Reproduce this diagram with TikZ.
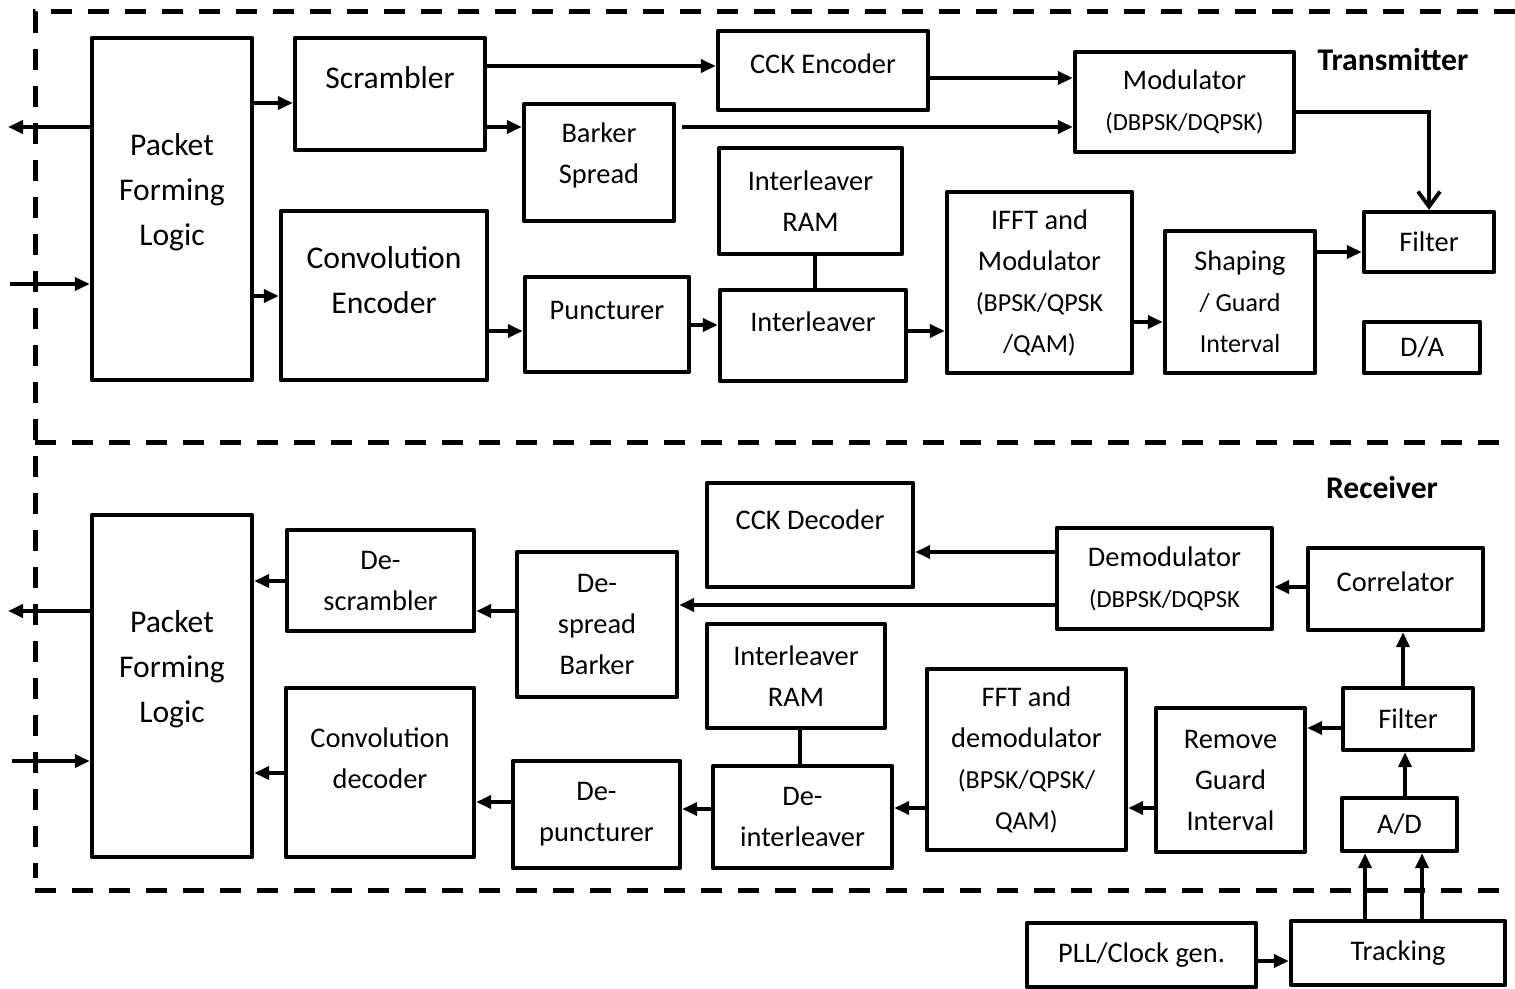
\documentclass[tikz,border=0pt]{standalone}
\usepackage{fontspec}
\setmainfont{Carlito}
\usepackage{tikz}
\usetikzlibrary{arrows.meta,positioning}
\newcommand{\fbig}{\fontsize{15.8}{22.5}\selectfont}
\newcommand{\fmed}{\fontsize{14.2}{20.5}\selectfont}
\newcommand{\fmid}{\fontsize{13}{19.5}\selectfont}
\newcommand{\fsml}{\fontsize{12.3}{19.5}\selectfont}

\begin{document}
\begin{tikzpicture}[
  x=0.5pt, y=-0.5pt,
  blk/.style={draw, line width=2.2pt, line join=round, align=center, inner sep=0pt, font=\fmed},
  sz/.style 2 args={minimum width=#1*0.5pt, minimum height=#2*0.5pt},
  lift/.style={text depth=#1},
  arr/.style={-{Triangle[length=7.5pt,width=6.5pt]}, line width=1.9pt},
  barb/.style={-{Straight Barb[length=7.5pt,width=11pt]}, line width=1.9pt},
  lnk/.style={line width=1.9pt},
  bound/.style={line width=2.5pt, dash pattern=on 10.5pt off 8pt},
  ttl/.style={font=\fbig\bfseries}
]
\useasboundingbox (0,0) rectangle (1515,989);

% frame of the two sections
\draw[bound] (1515,12) -- (35,12) -- (35,878);
\draw[bound] (35,443) -- (1515,443);
\draw[bound] (35,890) -- (1515,890);

% transmitter
\node[ttl] (tx) at (1393,60) {Transmitter};
\node[blk, sz={160}{342}, font=\fbig, lift=19pt] (pflT) at (172,209) {Packet\\Forming\\Logic};
\node[blk, sz={190}{112}, font=\fbig, lift=16pt] (scr) at (390,94) {Scrambler};
\node[blk, sz={206}{169}, font=\fbig, lift=15pt] (conv) at (384,295.5) {Convolution\\Encoder};
\node[blk, sz={210}{79}, lift=7pt] (cck) at (823,70.5) {CCK Encoder};
\node[blk, sz={150}{117}, lift=9pt] (bark) at (599,162.5) {Barker\\Spread};
\node[blk, sz={219}{100}] (mod) at (1184.5,102) {Modulator\\{\fsml (DBPSK/DQPSK)}};
\node[blk, sz={183}{106}] (ramT) at (810.5,201) {Interleaver\\RAM};
\node[blk, sz={164}{95}, lift=14pt] (punc) at (607,324.5) {Puncturer};
\node[blk, sz={186}{91}, lift=14pt] (ilv) at (813,335.5) {Interleaver};
\node[blk, sz={185}{181}] (ifft) at (1039.5,282.5) {IFFT and\\Modulator\\{\fmid (BPSK/QPSK}\\{\fmid /QAM)}};
\node[blk, sz={150}{142}] (shap) at (1240,302) {Shaping\\{\fmid / Guard}\\{\fmid Interval}};
\node[blk, sz={130}{60}] (filT) at (1429,242) {Filter};
\node[blk, sz={116}{51}] (da) at (1422,347.5) {D/A};

\coordinate (outT) at (8,127);
\coordinate (inT) at (10,284);
\draw[arr] (pflT.west |- outT) -- (outT);
\draw[arr] (inT) -- (pflT.west |- inT);
\draw[arr] (pflT.east |- 0,103) -- (scr.west |- 0,103);
\draw[arr] (pflT.east |- 0,296) -- (conv.west |- 0,296);
\draw[arr] (scr.east |- 0,66) -- (cck.west |- 0,66);
\draw[arr] (scr.east |- 0,127) -- (bark.west |- 0,127);
\draw[arr] (cck.east |- 0,78) -- (mod.west |- 0,78);
\draw[arr, shorten <=3pt] (bark.east |- 0,127) -- (mod.west |- 0,127);
\draw[barb] (mod.east |- 0,112) -| (filT.north);
\draw[arr] (conv.east |- 0,331) -- (punc.west |- 0,331);
\draw[arr] (punc.east |- 0,325) -- (ilv.west |- 0,325);
\draw[lnk] (ramT.south -| 815,0) -- (ilv.north -| 815,0);
\draw[arr] (ilv.east |- 0,331) -- (ifft.west |- 0,331);
\draw[arr] (ifft.east |- 0,322) -- (shap.west |- 0,322);
\draw[arr] (shap.east |- 0,252) -- (filT.west |- 0,252);

% receiver
\node[ttl] (rx) at (1382,488) {Receiver};
\node[blk, sz={160}{342}, font=\fbig, lift=19pt] (pflR) at (172,686) {Packet\\Forming\\Logic};
\node[blk, sz={187}{101}] (dscr) at (380.5,580.5) {De-\\scrambler};
\node[blk, sz={188}{169}, lift=14pt] (cdec) at (380,772.5) {Convolution\\decoder};
\node[blk, sz={160}{145}] (dspr) at (597,624.5) {De-\\spread\\Barker};
\node[blk, sz={206}{104}, lift=15pt] (cckd) at (810,535) {CCK Decoder};
\node[blk, sz={215}{101}] (demod) at (1164.5,578.5) {Demodulator\\{\fsml (DBPSK/DQPSK}};
\node[blk, sz={175}{82}, lift=7pt] (corr) at (1395.5,589) {Correlator};
\node[blk, sz={178}{104}] (ramR) at (796,676) {Interleaver\\RAM};
\node[blk, sz={179}{102}] (dilv) at (802.5,817) {De-\\interleaver};
\node[blk, sz={199}{181}] (fft) at (1026.5,759.5) {FFT and\\demodulator\\{\fmid (BPSK/QPSK/}\\{\fmid QAM)}};
\node[blk, sz={149}{144}] (rgi) at (1230.5,780) {Remove\\Guard\\Interval};
\node[blk, sz={130}{62}] (filR) at (1408,719) {Filter};
\node[blk, sz={115}{53}] (ad) at (1399.5,824.5) {A/D};
\node[blk, sz={167}{107}] (dpun) at (596.5,814.5) {De-\\puncturer};
\node[blk, sz={229}{64}] (pll) at (1141.5,955) {PLL/Clock gen.};
\node[blk, sz={214}{64}] (trk) at (1398,953) {Tracking};

\coordinate (outR) at (8,611);
\coordinate (inR) at (12,761);
\draw[arr] (pflR.west |- outR) -- (outR);
\draw[arr] (inR) -- (pflR.west |- inR);
\draw[arr] (dscr.west |- 0,581) -- (pflR.east |- 0,581);
\draw[arr] (cdec.west |- 0,773) -- (pflR.east |- 0,773);
\draw[arr] (dspr.west |- 0,611) -- (dscr.east |- 0,611);
\draw[arr] (dpun.west |- 0,802) -- (cdec.east |- 0,802);
\draw[arr] (demod.west |- 0,552) -- (cckd.east |- 0,552);
\draw[arr] (demod.west |- 0,605) -- (dspr.east |- 0,605);
\draw[arr] (corr.west |- 0,587) -- (demod.east |- 0,587);
\draw[arr] (filR.north -| 1403,0) -- (corr.south -| 1403,0);
\draw[arr] (filR.west |- 0,728) -- (rgi.east |- 0,728);
\draw[arr] (ad.north -| 1405,0) -- (filR.south -| 1405,0);
\draw[arr] (rgi.west |- 0,808) -- (fft.east |- 0,808);
\draw[arr] (fft.west |- 0,808) -- (dilv.east |- 0,808);
\draw[arr] (dilv.west |- 0,809) -- (dpun.east |- 0,809);
\draw[lnk] (ramR.south -| 800,0) -- (dilv.north -| 800,0);
\draw[arr] (pll.east |- 0,961) -- (trk.west |- 0,961);
\draw[arr] (trk.north -| 1365,0) -- (ad.south -| 1365,0);
\draw[arr] (trk.north -| 1422,0) -- (ad.south -| 1422,0);
\end{tikzpicture}
\end{document}
